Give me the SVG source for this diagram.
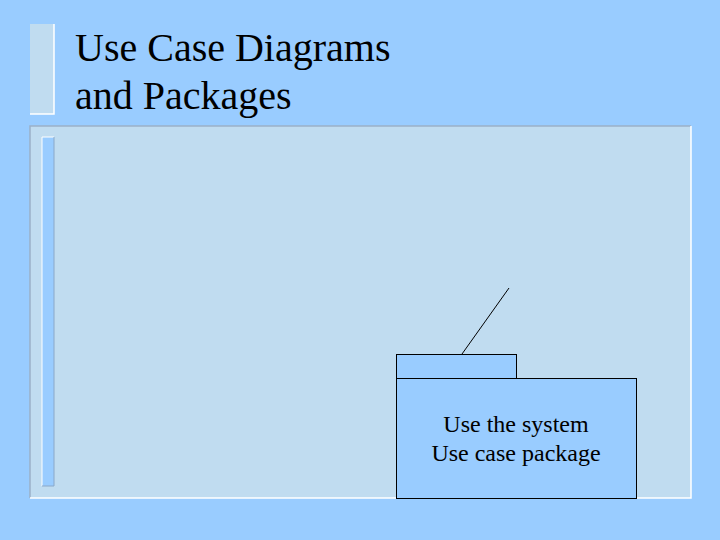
<svg xmlns="http://www.w3.org/2000/svg" width="720" height="540" viewBox="0 0 720 540">
<style>
.title{font-family:'Liberation Serif','Times New Roman','DejaVu Serif',serif;font-size:40px;fill:#000}
.lbl{font-family:'Liberation Serif','Times New Roman','DejaVu Serif',serif;font-size:24px;fill:#000;text-anchor:middle}
.pkg{fill:#99CCFF;stroke:#000;stroke-width:1}
</style>
<rect x="0" y="0" width="720" height="540" fill="#99CCFF"/>
<g id="title-bar">
<rect x="30" y="24" width="24" height="90" fill="#C0DCF0"/>
<polyline points="30,114 54,114 54,24" fill="none" stroke="#FFFFFF" stroke-width="1.5"/>
</g>
<g id="panel">
<rect x="30" y="126" width="661" height="372" fill="#C0DCF0"/>
<polyline points="30,498 30,126 691,126" fill="none" stroke="#9AB0C8" stroke-width="1.5"/>
<polyline points="30,498 691,498 691,126" fill="none" stroke="#FFFFFF" stroke-width="1.5"/>
<rect x="42" y="137" width="12" height="349" fill="#99CCFF"/>
<polyline points="42,486 42,137 54,137" fill="none" stroke="#FFFFFF" stroke-width="1"/>
<polyline points="42,486 54,486 54,137" fill="none" stroke="#8AA8C8" stroke-width="1"/>
</g>
<text class="title" x="75" y="61">Use Case Diagrams</text>
<text class="title" x="75" y="109">and Packages</text>
<g id="connectors">
<line x1="462" y1="354" x2="509" y2="288" stroke="#000" stroke-width="1"/>
</g>
<g id="package">
<rect class="pkg" x="396.5" y="354.5" width="120" height="24"/>
<rect class="pkg" x="396.5" y="378.5" width="240" height="120"/>
<text class="lbl" x="516" y="432">Use the system</text>
<text class="lbl" x="516" y="461">Use case package</text>
</g>
</svg>
